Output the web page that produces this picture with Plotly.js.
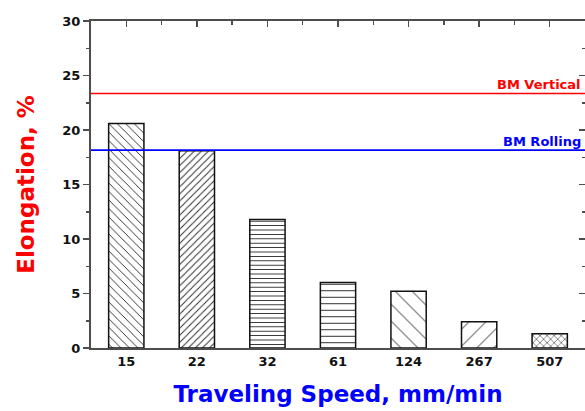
<!DOCTYPE html>
<html>
<head>
<meta charset="utf-8">
<script src="https://cdn.plot.ly/plotly-3.0.1.min.js"></script>
<style>html,body{margin:0;padding:0;overflow:hidden;background:#fff}</style>
</head>
<body>
<div id="chart" style="width:585px;height:411px"></div>
<script>
// ---- data ----
const speeds = ['15', '22', '32', '61', '124', '267', '507'];
const elongation = [20.6, 18.1, 11.8, 6.0, 5.2, 2.4, 1.3];
const refNames = ['BM Vertical', 'BM Rolling'];
const refValues = [23.35, 18.15];
const yTickVals = [0, 5, 10, 15, 20, 25, 30];

// ---- styles ----
const refColors = ['#ff0000', '#0000ff'];
const patShapes = ['\\', '/', '-', '-', '\\', '/', 'x'];
const patSizes = [6, 5, 4.4, 6.5, 12, 12, 5];
const patSolid = [0.15, 0.18, 0.2, 0.15, 0.08, 0.08, 0.2];
const axisColor = '#4d4d4d';
const font = 'DejaVu Sans, sans-serif';

const bars = {
  type: 'bar',
  x: speeds,
  y: elongation,
  width: 0.5,
  marker: {
    color: 'white',
    line: {color: '#111', width: 1.5},
    pattern: {shape: patShapes, size: patSizes, solidity: patSolid,
              fgcolor: '#222', bgcolor: 'white', fillmode: 'replace'}
  },
  hoverinfo: 'x+y',
  showlegend: false
};

const ghost = {
  type: 'scatter', x: [0], y: [0], xaxis: 'x2', yaxis: 'y2',
  mode: 'markers', marker: {opacity: 0}, hoverinfo: 'skip', showlegend: false
};

const shapes = refValues.map((v, i) => ({
  type: 'line', xref: 'paper', yref: 'y', x0: 0, x1: 1, y0: v, y1: v,
  line: {color: refColors[i], width: 1.6}
}));

const annotations = refNames.map((n, i) => ({
  text: '<b>' + n + '</b>', xref: 'paper', yref: 'y', x: 0.995, y: refValues[i],
  xanchor: 'right', yanchor: 'bottom', yshift: -1, showarrow: false,
  font: {family: font, size: 13, color: refColors[i]}
}));

const layout = {
  width: 585, height: 411,
  margin: {l: 91, r: 0, t: 21, b: 63},
  paper_bgcolor: 'white', plot_bgcolor: 'white',
  bargap: 0.5,
  xaxis: {
    type: 'category', range: [-0.5, 6.5], showline: true, linecolor: axisColor, linewidth: 2,
    ticks: '', showgrid: false, zeroline: false,
    tickfont: {family: font, size: 13, color: '#111', weight: 'bold'},
    title: {text: '<b>Traveling Speed, mm/min</b>', standoff: 18,
            font: {family: font, size: 23, color: '#0000ff'}}
  },
  xaxis2: {
    overlaying: 'x', side: 'top', range: [-0.5, 6.5], tickmode: 'linear', tick0: 0, dtick: 1,
    ticks: 'inside', ticklen: 6, tickwidth: 1.5, tickcolor: axisColor,
    minor: {dtick: 0.5, tick0: 0, ticks: 'inside', ticklen: 3.5, tickwidth: 1.5, tickcolor: axisColor},
    showticklabels: false, showline: true, linecolor: axisColor, linewidth: 2,
    showgrid: false, zeroline: false
  },
  yaxis: {
    range: [0, 30], tickvals: yTickVals, ticks: 'outside', ticklen: 6, tickwidth: 1.5, tickcolor: axisColor,
    minor: {dtick: 2.5, ticks: 'outside', ticklen: 3.5, tickwidth: 1.5, tickcolor: axisColor},
    showline: true, linecolor: axisColor, linewidth: 2, showgrid: false, zeroline: false,
    tickfont: {family: font, size: 13, color: '#111', weight: 'bold'},
    title: {text: '<b>Elongation, %</b>', standoff: 21,
            font: {family: font, size: 23, color: '#ff0000'}}
  },
  yaxis2: {
    overlaying: 'y', side: 'right', range: [0, 30], tickvals: yTickVals,
    ticks: 'inside', ticklen: 6, tickwidth: 1.5, tickcolor: axisColor,
    minor: {dtick: 2.5, ticks: 'inside', ticklen: 3.5, tickwidth: 1.5, tickcolor: axisColor},
    showticklabels: false, showline: true, linecolor: axisColor, linewidth: 2,
    showgrid: false, zeroline: false
  },
  shapes: shapes,
  annotations: annotations
};

Plotly.newPlot('chart', [bars, ghost], layout, {displayModeBar: false, staticPlot: true});
</script>
</body>
</html>
